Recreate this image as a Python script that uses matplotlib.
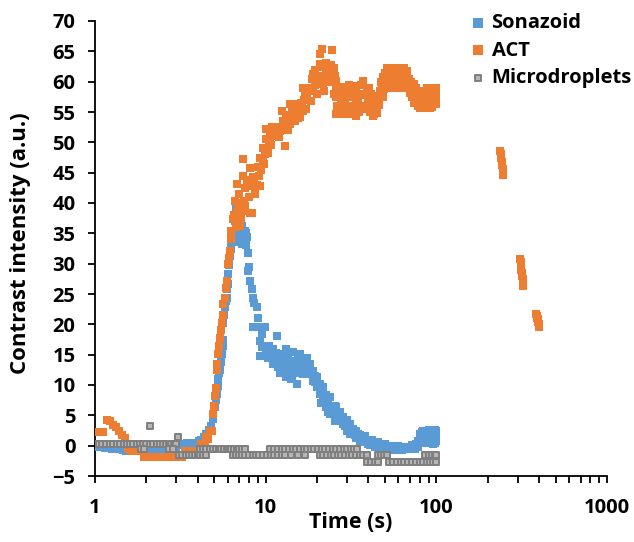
import matplotlib
matplotlib.use("Agg")
import matplotlib.pyplot as plt
from matplotlib.ticker import FixedLocator, LogLocator, NullFormatter

plt.rcParams['font.family'] = ['Open Sans', 'DejaVu Sans']
plt.rcParams['font.weight'] = 'bold'

# Sonazoid (blue)
sona_t = [1.00, 1.05, 1.10, 1.15, 1.20, 1.26, 1.32, 1.38, 1.45, 1.52, 1.60, 1.68, 1.76, 1.85,
          1.95, 2.05, 2.15, 2.25, 2.36, 2.48, 2.60, 2.72, 2.85, 3.00, 3.15, 3.30, 3.45, 3.60,
          3.75, 3.90, 4.05, 4.20, 4.35, 4.50, 4.65, 4.80, 4.93, 5.05, 5.12, 5.17, 5.23, 5.28,
          5.34, 5.40, 5.47, 5.53, 5.60, 5.66, 5.66, 5.72, 5.78, 5.84, 5.90, 5.97, 6.05, 6.05,
          6.10, 6.18, 6.24, 6.30, 6.38, 6.46, 6.60, 6.70, 6.88, 6.80, 6.95, 7.05, 7.15, 7.25,
          7.35, 7.45, 7.56, 7.65, 7.75, 7.88, 7.95, 7.90, 8.10, 8.27, 8.45, 8.60, 8.85, 9.05,
          8.45, 9.26, 9.90, 9.47, 11.6, 9.26, 9.47, 9.26, 9.70, 10.1, 10.5, 11.0, 11.0, 11.5,
          12.1, 12.1, 12.6, 13.2, 13.2, 13.9, 13.9, 14.5, 14.5, 15.2, 15.2, 15.9, 15.9, 16.6,
          16.6, 17.4, 17.4, 18.2, 18.2, 19.0, 19.0, 19.9, 19.9, 20.8, 20.8, 21.7, 21.7, 22.7,
          22.7, 23.8, 23.8, 24.8, 26.0, 26.0, 27.2, 28.5, 28.5, 29.9, 29.9, 31.2, 31.2, 32.6,
          34.0, 34.0, 35.7, 37.3, 37.3, 39.0, 40.8, 40.8, 42.8, 44.7, 46.8, 49.0, 51.3, 53.5,
          56.0, 58.5, 61.2, 64.0, 67.0, 70.0, 73.5, 76.5, 78.0, 80.0, 82.0, 84.0, 86.0, 87.7,
          90.0, 92.0, 94.0, 96.0, 98.0, 100.0, 99.0, 95.0,
          12.4, 13.6, 14.8, 16.2, 17.8, 19.4, 21.2, 23.2, 25.4, 11.8, 10.8, 12.9, 14.1,
          10.3, 10.8, 11.3, 11.8, 12.3, 12.8, 13.5, 14.2, 14.8, 15.5, 16.2, 17.0, 17.8, 18.6,
          19.4, 20.3, 21.2, 22.2, 23.2, 24.3, 25.4, 26.6, 27.8, 29.2, 30.5, 31.9, 33.3, 34.8,
          35.7, 36.5, 38.2, 39.9, 41.8, 43.8, 45.7, 47.9, 50.1, 52.5, 55.0, 57.3, 59.8, 62.6,
          65.5, 68.5, 71.7, 75.0, 78.0, 80.0, 82.0, 84.0, 86.0, 88.0, 90.0, 92.0, 94.0, 96.0,
          98.0, 100.0, 7.0, 7.2, 7.5, 7.7, 6.9, 7.3]
sona_v = [-0.2, -0.3, -0.3, -0.4, -0.4, -0.5, -0.5, -0.6, -0.7, -0.8, -0.8, -0.9, -0.9, -0.9,
          -0.9, -0.9, -0.9, -0.9, -0.8, -0.8, -0.8, -0.7, -0.5, -0.3, 0.1, 0.3, 0.4, 0.4,
          0.3, 0.4, 0.8, 1.0, 1.4, 1.9, 2.6, 3.2, 4.4, 6.3, 7.5, 8.5, 9.8, 11.0,
          12.0, 12.4, 13.8, 15.1, 16.4, 17.5, 20.3, 21.5, 22.8, 23.8, 24.4, 25.8, 26.7, 28.3,
          29.8, 31.3, 32.5, 33.8, 34.5, 35.4, 37.1, 39.3, 37.0, 35.0, 34.0, 35.8, 34.5, 33.3,
          35.2, 34.0, 35.4, 33.0, 34.4, 31.8, 29.4, 28.8, 27.2, 25.8, 24.4, 23.5, 22.8, 21.1,
          19.5, 19.5, 19.6, 18.4, 18.0, 17.3, 16.2, 14.8, 16.5, 15.6, 16.4, 16.0, 13.5, 15.2,
          15.1, 11.9, 14.2, 16.0, 11.3, 14.0, 12.5, 15.4, 13.5, 10.2, 12.0, 15.1, 13.0, 14.0,
          11.8, 12.9, 14.5, 11.8, 13.5, 10.7, 12.3, 9.6, 11.3, 8.5, 10.2, 7.4, 9.6, 6.3,
          8.4, 5.2, 8.0, 6.5, 6.3, 4.8, 5.5, 4.7, 3.6, 2.5, 4.2, 3.6, 2.0, 2.8,
          2.5, 1.3, 1.8, 1.4, 0.6, 1.0, 0.8, 0.1, 0.4, 0.2, 0.0, -0.2, -0.3, -0.3,
          -0.4, -0.5, -0.5, -0.5, -0.4, -0.3, -0.1, 0.3, 0.8, 1.9, 2.2, 0.8, 2.5, 2.4,
          1.7, 2.3, 1.0, 2.2, 2.6, 0.8, 1.5, 0.3,
          13.0, 13.2, 12.8, 13.2, 12.0, 10.5, 7.0, 5.5, 4.0, 13.5, 14.5, 12.0, 11.0,
          14.5, 15.0, 14.2, 13.0, 13.5, 12.0, 15.2, 11.5, 12.5, 14.5, 12.5, 13.5, 12.5, 12.0,
          11.5, 10.0, 9.0, 8.0, 7.0, 6.3, 6.5, 5.3, 4.3, 3.2, 3.3, 2.6, 1.8, 2.0,
          0.8, 1.0, 1.6, 0.2, 1.0, -0.3, 0.6, -0.5, 0.3, -0.6, 0.0, -0.7, -0.1, -0.7,
          -0.2, -0.6, 0.1, -0.6, -0.3, 0.5, 1.0, 2.5, 1.4, 0.5, 2.6, 0.9, 2.5, 1.2,
          0.5, 2.4, 33.5, 35.5, 33.2, 35.0, 36.0, 36.2]

# ACT (orange)
act_t = [1.00, 1.04, 1.08, 1.12, 1.17, 1.22, 1.27, 1.32, 1.38, 1.44, 1.50, 1.56, 1.62, 1.70,
         1.78, 1.86, 1.95, 2.05, 2.15, 2.25, 2.36, 2.48, 2.60, 2.72, 2.85, 2.98, 3.10, 3.22,
         3.38, 3.55, 3.72, 3.90, 4.05, 4.20, 4.41, 4.50, 4.62, 4.72, 4.83, 4.93, 5.00, 5.05,
         5.10, 5.17, 5.22, 5.28, 5.33, 5.40, 5.45, 5.53, 5.60, 5.66, 5.78, 5.85, 5.90, 6.05,
         6.12, 6.18, 6.25, 6.30, 6.46, 6.60, 6.50, 6.70, 6.75, 6.90, 7.07, 7.15, 7.40, 7.25,
         7.50, 6.76, 7.00, 7.40, 7.40, 7.60, 7.80, 8.10, 8.27, 8.00, 8.10, 8.30, 8.45, 8.70,
         8.90, 9.10, 9.26, 9.40, 9.70, 9.60, 9.90, 10.1, 10.1, 10.4, 10.6, 10.9, 11.1, 11.4,
         11.7, 12.1, 12.4, 12.7, 13.0, 13.0, 13.4, 13.9, 13.9, 14.2, 14.5, 14.9, 15.2, 15.6,
         15.9, 16.3, 16.6, 16.6, 17.0, 17.4, 17.8, 18.2, 18.6, 19.0, 19.4, 19.9, 20.3, 20.8,
         20.8, 21.3, 21.7, 22.2, 22.7, 23.2, 23.8, 24.4, 25.0, 25.5, 26.0, 26.0, 26.0, 26.6,
         27.2, 27.2, 27.8, 28.5, 28.5, 29.2, 29.8, 30.5, 31.2, 31.9, 32.6, 33.3, 34.0, 34.0,
         34.8, 35.7, 36.5, 37.3, 37.3, 38.2, 39.0, 39.9, 40.8, 40.8, 41.8, 42.8, 43.8, 44.7,
         45.7, 46.8, 47.9, 49.0, 50.1, 51.3, 52.5, 53.7, 55.0, 56.0, 57.3, 58.5, 59.8, 61.2,
         62.6, 64.0, 65.5, 67.0, 68.5, 70.0, 71.7, 73.5, 75.0, 76.5, 78.2, 80.0, 81.8, 83.8,
         85.7, 87.7, 89.7, 91.8, 93.9, 96.0, 98.0, 100.0, 99.0,
         7.6, 8.0, 8.6, 9.0, 9.3, 9.8, 10.3, 10.8, 11.3, 11.9, 12.5, 13.2, 13.6, 14.7,
         15.4, 16.0, 16.8, 17.2, 17.6, 18.4,
         19.0, 19.5, 20.0, 20.5, 21.0, 21.5, 22.0, 22.5, 23.0, 23.5, 24.0, 24.6, 25.2, 25.8,
         26.3, 27.0, 27.5, 28.0, 28.8, 29.5, 30.2, 30.8, 31.5, 32.2, 33.0, 33.8, 34.5, 35.2,
         36.0, 36.8, 37.8, 38.5, 39.5, 40.3, 41.2, 42.2, 43.2, 44.2, 45.2, 46.2, 47.3, 48.4,
         49.5, 50.6, 51.8, 53.0, 54.3, 55.5, 56.6, 57.9, 59.1, 60.5, 61.9, 63.3, 64.8, 66.2,
         67.7, 69.2, 70.8, 72.5, 74.2, 75.8, 77.3, 79.0, 80.9, 82.8, 84.7, 86.7, 88.7, 90.7,
         92.8, 94.9, 97.0, 99.5,
         237, 238.5, 240, 241.5, 243, 244.5, 246, 247,
         311, 312.5, 314, 315.5, 317, 318.5, 320, 321.5, 323,
         385, 387.5, 390, 392.5, 395, 397.5, 400, 402]
act_v = [2.3, 2.3, 2.3, 2.3, 4.3, 4.0, 3.4, 3.0, 2.4, 1.8, 1.2, -0.5, -0.8, -0.8,
         -0.8, -0.8, -1.8, -1.8, -1.8, -1.8, -1.8, -1.8, -1.8, -1.8, -1.8, -1.8, -1.8, -1.8,
         -0.8, -0.8, -0.8, -0.8, -0.8, 0.3, 0.3, 1.4, 1.1, 2.5, 2.5, 5.2, 6.5, 8.2,
         9.5, 12.4, 13.5, 15.1, 16.5, 17.8, 19.0, 20.3, 21.5, 23.3, 24.4, 26.0, 27.2, 29.9,
         31.0, 32.1, 34.0, 35.4, 37.3, 40.4, 38.0, 36.0, 38.5, 39.0, 36.2, 37.5, 38.7, 40.0,
         40.4, 43.1, 41.5, 44.5, 47.2, 42.5, 43.8, 38.4, 38.4, 41.0, 45.8, 42.8, 44.3, 41.5,
         43.0, 44.5, 47.5, 45.5, 49.1, 46.8, 48.0, 50.5, 52.2, 49.5, 50.8, 52.5, 51.9, 51.0,
         52.5, 51.9, 55.2, 53.5, 49.4, 52.5, 53.5, 53.0, 56.3, 55.0, 54.6, 53.5, 56.3, 55.5,
         54.1, 56.5, 55.2, 59.0, 57.8, 57.4, 58.5, 59.0, 60.5, 61.2, 59.5, 59.6, 61.0, 62.9,
         64.5, 65.4, 59.6, 61.0, 61.8, 60.2, 59.9, 65.2, 62.3, 61.0, 60.1, 57.4, 54.6, 58.5,
         59.0, 55.7, 56.8, 58.2, 54.6, 57.2, 58.5, 55.8, 57.4, 55.0, 57.9, 56.0, 56.3, 54.4,
         57.0, 58.0, 56.0, 60.1, 57.8, 55.8, 59.0, 57.0, 57.4, 55.0, 56.2, 54.4, 55.8, 56.3,
         57.5, 58.5, 59.6, 60.7, 61.5, 62.3, 61.0, 62.3, 60.5, 62.3, 61.0, 60.1, 61.5, 62.3,
         60.5, 59.0, 61.0, 61.8, 59.5, 58.2, 57.4, 59.6, 57.8, 57.4, 56.0, 55.7, 57.2, 58.5,
         57.6, 59.0, 57.0, 55.7, 57.2, 57.4, 58.5, 56.3, 59.0,
         39.5, 43.0, 44.0, 46.0, 42.8, 46.5, 48.2, 49.5, 52.5, 50.8, 52.0, 54.5, 52.0, 55.5,
         54.0, 56.5, 57.0, 55.5, 59.0, 56.8,
         58.5, 62.0, 58.0, 60.0, 61.0, 62.5, 58.5, 63.0, 62.5, 61.5, 62.8, 60.5, 58.0, 59.0,
         56.0, 57.5, 54.6, 59.2, 56.0, 54.6, 57.8, 59.4, 56.0, 54.6, 58.6, 59.3, 57.5, 55.0,
         59.4, 58.0, 56.0, 57.8, 55.5, 59.0, 58.0, 57.6, 54.6, 57.2, 54.8, 56.2, 60.0, 57.5,
         58.8, 60.0, 59.5, 60.0, 59.0, 61.5, 59.5, 62.3, 59.0, 60.0, 61.0, 62.3, 62.3, 60.0,
         59.0, 60.5, 60.0, 58.5, 56.5, 59.0, 58.5, 57.6, 58.5, 56.0, 55.7, 56.4, 57.8, 58.5,
         58.5, 55.8, 59.0, 57.6,
         48.5, 48.0, 47.4, 46.8, 46.2, 45.6, 45.0, 44.6,
         30.7, 30.2, 29.6, 29.0, 28.5, 28.0, 27.4, 26.9, 26.4,
         21.7, 21.4, 21.1, 20.8, 20.4, 20.1, 19.8, 19.5]

# Microdroplets (gray)
micro_t = [1.00, 1.05, 1.10, 1.16, 1.22, 1.28, 1.34, 1.40, 1.47, 1.54, 1.61, 1.68, 1.76, 1.84,
           1.92, 2.00, 2.10, 2.20, 2.30, 2.40, 2.50, 2.60, 2.70, 2.80, 2.90, 3.00,
           1.86, 1.95, 2.72, 2.86, 2.10, 3.05,
           3.10, 3.25, 3.40, 3.55, 3.70, 3.85, 4.00, 4.15, 4.30, 4.45,
           4.10, 4.30, 4.50, 4.70, 4.90, 5.10, 5.30, 5.50, 5.70, 5.90, 6.10, 6.30, 6.50, 6.75,
           7.00, 7.30, 7.60,
           6.40, 6.70, 7.00, 7.30, 7.60, 8.00, 8.40, 8.80, 9.20, 9.70, 10.2, 10.7, 11.2, 11.8,
           12.4, 13.0,
           10.6, 11.2, 11.8, 12.4, 13.0, 13.7, 14.4, 15.1, 15.9, 16.7, 17.5, 18.4, 19.3, 20.3,
           21.3, 22.4, 23.5, 24.7, 25.9, 27.2, 28.6, 30.0, 31.5, 33.0, 34.5,
           14.0, 15.5, 17.0, 20.8, 21.8, 22.9, 24.0, 25.2, 26.5, 27.8, 29.2, 30.7, 32.2, 33.8,
           35.5, 37.3, 39.0,
           39.5, 41.5, 43.5, 45.7,
           45.5, 47.5, 49.5, 51.5,
           53.0, 56.0, 59.0, 62.0, 65.0, 68.5, 72.0, 76.0, 80.0, 84.0, 88.0, 92.0, 96.0, 100.0,
           86.0, 90.0, 94.0, 98.0, 100.0]
micro_v = [0.3, 0.3, 0.3, 0.3, 0.3, 0.3, 0.3, 0.3, 0.3, 0.3, 0.3, 0.3, 0.3, 0.3,
           0.3, 0.3, 0.3, 0.3, 0.3, 0.3, 0.3, 0.3, 0.3, 0.3, 0.3, 0.3,
           -0.6, -0.6, -0.6, -0.6, 3.3, 1.4,
           -1.6, -1.6, -1.6, -1.6, -1.6, -1.6, -1.6, -1.6, -1.6, -1.6,
           -0.6, -0.6, -0.6, -0.6, -0.6, -0.6, -0.6, -0.6, -0.6, -0.6, -0.6, -0.6, -0.6, -0.6,
           -0.6, -0.6, -0.6,
           -1.6, -1.6, -1.6, -1.6, -1.6, -1.6, -1.6, -1.6, -1.6, -1.6, -1.6, -1.6, -1.6, -1.6,
           -1.6, -1.6,
           -0.6, -0.6, -0.6, -0.6, -0.6, -0.6, -0.6, -0.6, -0.6, -0.6, -0.6, -0.6, -0.6, -0.6,
           -0.6, -0.6, -0.6, -0.6, -0.6, -0.6, -0.6, -0.6, -0.6, -0.6, -0.6,
           -1.6, -1.6, -1.6, -1.6, -1.6, -1.6, -1.6, -1.6, -1.6, -1.6, -1.6, -1.6, -1.6, -1.6,
           -1.6, -1.6, -1.6,
           -2.7, -2.7, -2.7, -2.7,
           -1.6, -1.6, -1.6, -1.6,
           -2.7, -2.7, -2.7, -2.7, -2.7, -2.7, -2.7, -2.7, -2.7, -2.7, -2.7, -2.7, -2.7, -2.7,
           -1.6, -1.6, -1.6, -1.6, -1.6]

y_ticks = list(range(-5, 71, 5))
x_ticks = [1, 10, 100, 1000]
x_labels = ['1', '10', '100', '1000']

fig = plt.figure(figsize=(6.34, 5.42), dpi=100)
ax = fig.add_axes([95/634, 66/542, 512/634, 455/542])

ax.scatter(sona_t, sona_v, s=30, marker='s', color='#5B9BD5', linewidths=0, label='Sonazoid', zorder=3)
ax.scatter(act_t, act_v, s=30, marker='s', color='#ED7D31', linewidths=0, label='ACT', zorder=4)
ax.scatter(micro_t, micro_v, s=15, marker='s', facecolor='#b5b5b5', edgecolor='#7F7F7F',
           linewidths=1.4, label='Microdroplets', zorder=5)

ax.set_xscale('log')
ax.set_xlim(1, 1000)
ax.set_ylim(-5, 70)
ax.set_yticks(y_ticks)
ax.xaxis.set_major_locator(FixedLocator(x_ticks))
ax.set_xticklabels(x_labels)
ax.xaxis.set_minor_locator(LogLocator(base=10, subs=range(2, 10)))
ax.xaxis.set_minor_formatter(NullFormatter())

for s in ['top', 'right']:
    ax.spines[s].set_visible(False)
for s in ['left', 'bottom']:
    ax.spines[s].set_linewidth(1.3)

ax.tick_params(axis='both', which='both', direction='out', length=5, width=1.3, labelsize=14.5)
ax.tick_params(axis='y', pad=9)
ax.tick_params(axis='x', pad=11)

fig.text(21/634, 1 - 243/542, 'Contrast intensity (a.u.)', rotation=90, ha='center', va='center',
         fontsize=16, fontweight='bold')
fig.text(351/634, 1 - 522/542, 'Time (s)', ha='center', va='center', fontsize=15.5, fontweight='bold')

ax.legend(loc='upper left', bbox_to_anchor=(471/634, 1 - 13/542), bbox_transform=fig.transFigure,
          frameon=False, fontsize=14.5, handletextpad=0.32, labelspacing=0.38, borderpad=0,
          borderaxespad=0, handlelength=0.7, scatterpoints=1, markerscale=1.25)

fig.savefig('out.png', dpi=100)
